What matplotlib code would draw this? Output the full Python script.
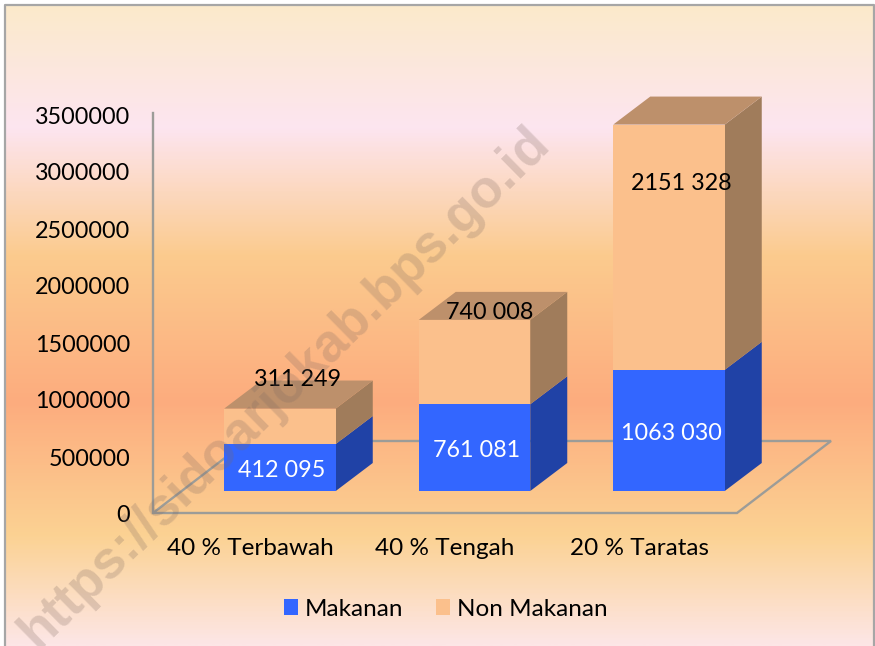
import numpy as np
import matplotlib
matplotlib.use("Agg")
import matplotlib.pyplot as plt
from matplotlib.colors import LinearSegmentedColormap
from matplotlib.patches import Polygon
from matplotlib.transforms import ScaledTranslation

categories = ["40 % Terbawah", "40 % Tengah", "20 % Taratas"]
makanan = [412095, 761081, 1063030]
non_makanan = [311249, 740008, 2151328]
makanan_labels = ["412 095", "761 081", "1063 030"]
non_makanan_labels = ["311 249", "740 008", "2151 328"]
series_names = ["Makanan", "Non Makanan"]
y_ticks = [0, 500000, 1000000, 1500000, 2000000, 2500000, 3000000, 3500000]

W, H = 875, 646
plt.rcParams["font.family"] = ["Lato", "DejaVu Sans"]
FS = 16.8
FS_TXT = 17.5
fig = plt.figure(figsize=(W / 100, H / 100), dpi=100, facecolor="white")

# background gradient panel
bg = fig.add_axes([0, 0, 1, 1], zorder=0)
bg.set_xlim(0, W); bg.set_ylim(H, 0); bg.axis("off")
stops = [(0.0, "#FBEACB"), (0.19, "#FDE5F0"), (0.39, "#FBCB8E"), (0.62, "#FDAC7E"),
         (0.83, "#FBD293"), (1.0, "#FDE6E6")]
cmap = LinearSegmentedColormap.from_list("bg", stops)
bg.imshow(np.linspace(0, 1, 400)[:, None], cmap=cmap, aspect="auto", extent=(5, 874, H, 5), zorder=0)
bg.set_xlim(0, W); bg.set_ylim(H, 0)
bg.plot([5, 5, 874, 874], [H, 5, 5, H], color="#A6A6A6", lw=1.6, zorder=1)

# main axes: y=0 at 513 px, 3.5M at 114 px; category spacing 194.5 px
L, R, T, B = 153, 831, 114, 513
ax = fig.add_axes([L / W, 1 - B / H, (R - L) / W, (B - T) / H], zorder=1)
ax.patch.set_alpha(0)
unit_x = 194.5
ax.set_xlim((L - 280) / unit_x, (R - 280) / unit_x)
ax.set_ylim(0, 3500000)
for s in ax.spines.values():
    s.set_visible(False)
unit_y = (B - T) / 3500000

width = 111.5 / unit_x
base = 22 / unit_y
depth_x = 37 / unit_x
depth_y = 28 / unit_y
x = np.arange(len(categories))

# floor and wall
fx0, fx1 = ax.get_xlim()[0], (737 - 280) / unit_x
fdx, fdy = 94 / unit_x, 72 / unit_y
grey = "#9C9C98"
ax.add_patch(Polygon([(fx0, 0), (fx1, 0), (fx1 + fdx, fdy), (fx0 + fdx, fdy)], closed=True,
                     fill=False, ec=grey, lw=1.7, zorder=1, clip_on=False))
ax.plot([fx0, fx0], [0, 3510000], color=grey, lw=1.7, zorder=1, clip_on=False)

BLUE, BLUE_S = "#3366FF", "#2042A6"
PEACH, PEACH_S, PEACH_T = "#FBC08C", "#A07C5B", "#BD906B"


def side(xc, y0, y1, color):
    xr = xc + width / 2
    ax.add_patch(Polygon([(xr, y0), (xr + depth_x, y0 + depth_y), (xr + depth_x, y1 + depth_y), (xr, y1)],
                         closed=True, fc=color, ec="none", zorder=2, clip_on=False))


def top(xc, y, color):
    xl, xr = xc - width / 2, xc + width / 2
    ax.add_patch(Polygon([(xl, y), (xr, y), (xr + depth_x, y + depth_y), (xl + depth_x, y + depth_y)],
                         closed=True, fc=color, ec="none", zorder=2, clip_on=False))


for i in x:
    y0 = base
    y1 = base + makanan[i]
    y2 = y1 + non_makanan[i]
    side(i, y0, y1, BLUE_S)
    side(i, y1, y2, PEACH_S)
    top(i, y2, PEACH_T)

b1 = ax.bar(x, makanan, width, bottom=base, color=BLUE, zorder=3, label=series_names[0])
b2 = ax.bar(x, non_makanan, width, bottom=base + np.array(makanan), color=PEACH, zorder=3,
            label=series_names[1], clip_on=False)

for i in x:
    ax.annotate(makanan_labels[i], (i, base + makanan[i] / 2), xytext=(2, -3), textcoords="offset pixels",
                ha="center", va="center", color="white", fontsize=FS, zorder=6)
label_shift = [(18, 47), (15, 50), (12, 64)]
for i in x:
    ax.annotate(non_makanan_labels[i], (i, base + makanan[i] + non_makanan[i] / 2), xytext=label_shift[i],
                textcoords="offset pixels", ha="center", va="center", color="black", fontsize=FS, zorder=6)

ax.set_yticks(y_ticks)
ax.set_yticklabels([str(v) for v in y_ticks], fontsize=FS, color="black")
ax.set_xticks(x - 30 / unit_x)
ax.set_xticklabels(categories, fontsize=FS_TXT, color="black")
ax.tick_params(axis="both", length=0)
ax.tick_params(axis="y", pad=16.5)
ax.tick_params(axis="x", pad=18)
shift_down = ScaledTranslation(0, -1 / 100, fig.dpi_scale_trans)
for lab in ax.get_yticklabels():
    lab.set_transform(lab.get_transform() + shift_down)

fig.legend(handles=[b1, b2], labels=series_names, loc="center", bbox_to_anchor=(445.5 / W, 1 - 609 / H),
           ncol=2, frameon=False, fontsize=FS_TXT, handlelength=0.6, handleheight=0.6,
           handletextpad=0.25, columnspacing=1.35)

# watermark
fig.text(285 / W, 1 - 388 / H, "https://sidoarjokab.bps.go.id", rotation=44.5, rotation_mode="anchor",
         ha="center", va="center", fontsize=38, fontweight="bold", family="Liberation Sans",
         color="#7F6A62", alpha=0.25, zorder=10)

fig.savefig("out.png", dpi=100)
